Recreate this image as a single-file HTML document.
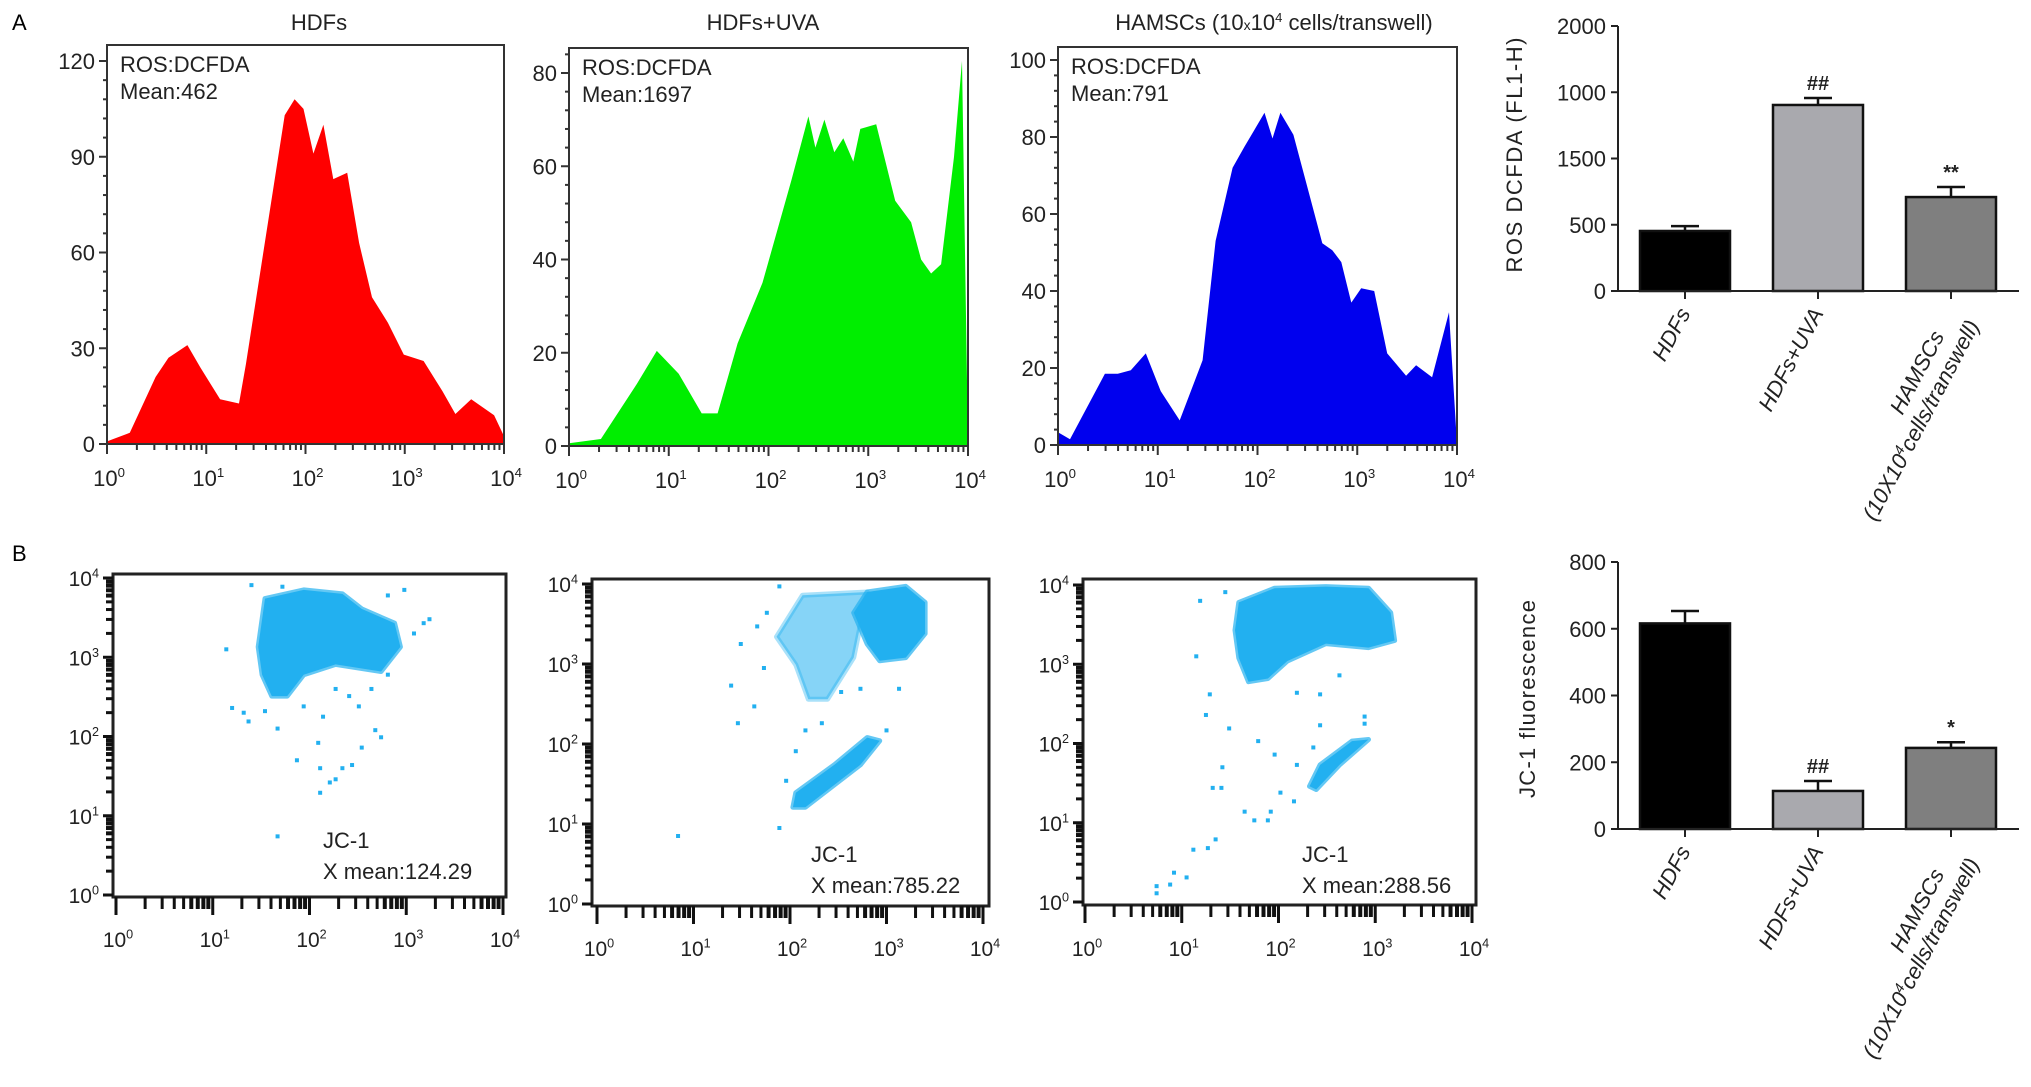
<!DOCTYPE html>
<html><head><meta charset="utf-8"><style>
html,body{margin:0;padding:0;background:#fff;}
svg{display:block;font-family:"Liberation Sans Narrow","Liberation Sans",sans-serif;}
</style></head><body>
<svg id="fig" width="2031" height="1087" viewBox="0 0 2031 1087" xmlns="http://www.w3.org/2000/svg">
<text x="12" y="30" font-size="22" font-family="Liberation Sans, sans-serif">A</text>
<text x="12" y="561" font-size="22" font-family="Liberation Sans, sans-serif">B</text>
</svg>
<script>
// ---------- DATA ----------
const histLabels = ["HDFs","HDFs+UVA","HAMSCs"];
const hist1LogX = [0,0.23,0.49,0.62,0.81,0.94,1.14,1.33,1.4,1.59,1.79,1.89,1.98,2.08,2.18,2.28,2.42,2.54,2.67,2.83,2.99,3.19,3.38,3.51,3.67,3.9,4.0];
const hist1Counts = [0.8,3.5,21,27,31,24,14,12.7,25,63,103,108,105,91,100,83,85,63,46,38,28,26,16.5,9.4,14,9,2.4];
const hist2LogX = [0,0.32,0.68,0.88,1.10,1.33,1.49,1.69,1.94,2.23,2.40,2.47,2.56,2.66,2.75,2.85,2.92,3.08,3.27,3.43,3.53,3.63,3.73,3.86,3.94,4.0];
const hist2Counts = [0.6,1.5,13.3,20.4,15.5,7,7,22,35,57,70.7,64,70,63,66,61,68,69,52.6,48,40,37,39,62,82.6,0.4];
const hist3LogX = [0,0.12,0.47,0.60,0.73,0.88,1.03,1.22,1.45,1.58,1.75,1.87,1.97,2.07,2.15,2.23,2.36,2.52,2.65,2.75,2.84,2.94,3.04,3.17,3.30,3.49,3.59,3.75,3.92,4.0];
const hist3Counts = [3.3,1.5,18.5,18.5,19.4,23.8,14,6.4,22,53,72,77.5,81.9,86.3,79.6,86.3,80.6,65,52.4,50.6,47.5,37,40.7,40,23.8,18,20.7,17.6,34.5,0.2];
const hist1YTicks = [0,30,60,90,120];
const hist2YTicks = [0,20,40,60,80];
const hist3YTicks = [0,20,40,60,80,100];
const logTicks = [0,1,2,3,4];

// scatter density regions (log10 x, log10 y) and sparse events
const sc1Dense = [[1.54,3.74],[1.94,3.85],[2.34,3.80],[2.54,3.61],[2.88,3.43],[2.94,3.13],[2.74,2.82],[2.27,2.91],[1.94,2.78],[1.77,2.51],[1.61,2.51],[1.51,2.78],[1.47,3.13]];
const sc1Points = [[1.14,3.10],[1.40,3.91],[1.72,3.89],[1.20,2.36],[1.32,2.30],[1.37,2.19],[1.54,2.32],[1.67,2.10],[1.87,1.70],[2.09,1.92],[2.11,1.60],[2.21,1.42],[2.27,1.46],[2.11,1.29],[2.34,1.60],[2.44,1.64],[2.54,1.86],[2.68,2.08],[2.74,1.99],[2.51,2.38],[2.41,2.51],[2.81,2.78],[3.08,3.30],[3.18,3.43],[3.24,3.48],[2.98,3.85],[2.81,3.78],[1.67,0.74],[2.27,2.60],[1.94,2.38],[2.14,2.25],[2.64,2.60]];
const sc2Dense = [[2.80,3.90],[3.20,3.97],[3.40,3.77],[3.40,3.38],[3.20,3.08],[2.93,3.04],[2.80,3.25],[2.66,3.64]];
const sc2Medium = [[2.13,3.86],[2.80,3.90],[2.66,3.08],[2.39,2.56],[2.19,2.56],[2.06,2.99],[1.86,3.34]];
const sc2Streak = [[2.03,1.21],[2.16,1.21],[2.73,1.74],[2.93,2.04],[2.80,2.08],[2.46,1.74],[2.06,1.39]];
const sc2Points = [[1.89,3.97],[1.66,3.47],[1.49,3.25],[1.39,2.73],[1.46,2.26],[1.63,2.47],[1.73,2.95],[2.06,1.91],[2.16,2.17],[1.96,1.54],[1.89,0.95],[0.84,0.85],[2.53,2.65],[2.73,2.69],[3.0,2.17],[3.13,2.69],[2.33,2.26],[1.76,3.64]];
const sc3Dense = [[1.59,3.78],[1.96,3.96],[2.49,3.98],[2.93,3.96],[3.16,3.65],[3.20,3.30],[2.93,3.21],[2.49,3.26],[2.09,3.04],[1.89,2.82],[1.69,2.78],[1.59,3.08],[1.55,3.43]];
const sc3Streak = [[2.32,1.46],[2.43,1.73],[2.76,2.03],[2.93,2.05],[2.63,1.73],[2.39,1.42]];
const sc3Points = [[1.19,3.80],[1.45,3.91],[1.15,3.10],[1.29,2.62],[1.25,2.36],[1.49,2.19],[1.42,1.70],[1.32,1.44],[1.41,1.44],[1.65,1.14],[1.75,1.03],[1.89,1.03],[1.92,1.14],[1.35,0.79],[1.27,0.68],[1.12,0.66],[1.05,0.31],[0.92,0.37],[0.88,0.22],[0.74,0.11],[0.74,0.20],[1.79,2.03],[1.96,1.86],[2.02,1.38],[2.16,1.27],[2.19,1.73],[2.43,2.23],[2.89,2.34],[2.19,2.64],[2.63,2.86],[2.43,2.62],[2.89,2.25],[2.36,1.95]];

// bar charts
const barCategories = ["HDFs","HDFs+UVA","HAMSCs"];
const rosMeans = [453,1404,709];
const rosErrors = [37,53,76];
const rosSig = ["","##","**"];
const rosTickValues = [0,500,1000,1500,2000];
const rosTickLabels = ["0","500","1500","1000","2000"];
const jcMeans = [616,114,243];
const jcErrors = [37,30,17];
const jcSig = ["","##","*"];
const jcTickValues = [0,200,400,600,800];

// ---------- DRAWING ----------
const svg = document.getElementById('fig');
const NS = 'http://www.w3.org/2000/svg';
function el(tag, attrs, parent){
  const e = document.createElementNS(NS, tag);
  for (const k in attrs) e.setAttribute(k, attrs[k]);
  (parent||svg).appendChild(e);
  return e;
}
function pow10Label(g, x, y, exp, size, anchor){
  const t = el('text', {x:x, y:y, 'font-size':size, 'text-anchor':anchor||'middle', fill:'#222'}, g);
  
  
  const a = document.createElementNS(NS,'tspan'); a.textContent='10'; t.appendChild(a);
  const b = document.createElementNS(NS,'tspan'); b.setAttribute('dy', -size*0.4); b.setAttribute('font-size', size*0.6); b.textContent=String(exp); t.appendChild(b);
  return t;
}

function drawHist(cfg){
  const g = el('g', {});
  
  
  const sx = v => cfg.x0 + (cfg.x1-cfg.x0)*v/4;
  const sy = v => cfg.y0 - (cfg.y0-cfg.yMaxPx)*v/cfg.yMax;
  // area
  let d = 'M'+sx(cfg.lx[0])+','+sy(0);
  for (let i=0;i<cfg.lx.length;i++) d += ' L'+sx(cfg.lx[i]).toFixed(1)+','+sy(cfg.cnt[i]).toFixed(1);
  d += ' L'+sx(cfg.lx[cfg.lx.length-1])+','+sy(0)+' Z';
  const p = el('path', {d:d, fill:cfg.color, stroke:'none'}, g);
  
  
  // frame
  const r = el('rect', {x:cfg.x0, y:cfg.top, width:cfg.x1-cfg.x0, height:cfg.y0-cfg.top, fill:'none', stroke:'#333', 'stroke-width':2}, g);
  
  
  // y ticks
  const step = cfg.yt[1]-cfg.yt[0];
  for (let v=0; v<=cfg.yMax+step; v+=step/5){
    const yy = sy(v); if (yy < cfg.top) break;
    el('line', {x1:cfg.x0, x2:cfg.x0-(Math.abs(v%step)<1e-6?8:4), y1:yy, y2:yy, stroke:'#333', 'stroke-width':2}, g);
  }
  cfg.yt.forEach(v=>{
    const t = el('text', {x:cfg.x0-12, y:sy(v)+8, 'font-size':22, 'text-anchor':'end', fill:'#222'}, g);
    
    
    t.textContent = v;
  });
  // x ticks
  for (let dec=0; dec<4; dec++){
    for (let k=1;k<10;k++){
      const xx = sx(dec+Math.log10(k));
      el('line', {x1:xx, x2:xx, y1:cfg.y0, y2:cfg.y0+(k===1?10:6), stroke:'#333', 'stroke-width':2}, g);
    }
  }
  el('line', {x1:sx(4), x2:sx(4), y1:cfg.y0, y2:cfg.y0+10, stroke:'#333', 'stroke-width':2}, g);
  logTicks.forEach(e=> pow10Label(g, sx(e)+2, cfg.y0+42, e, 22));
  // title
  const ti = el('text', {x:cfg.tx, y:30, 'font-size':22, 'text-anchor':'middle', fill:'#222'}, g);
  
  
  ti.innerHTML = cfg.title;
  const a1 = el('text', {x:cfg.x0+13, y:cfg.ann1, 'font-size':22, fill:'#222'}, g);
  
  
  a1.textContent = 'ROS:DCFDA';
  const a2 = el('text', {x:cfg.x0+13, y:cfg.ann1+27, 'font-size':22, fill:'#222'}, g);
  
  
  a2.textContent = cfg.mean;
}
drawHist({name:'histogram-hdfs', x0:107, x1:504, top:45, y0:444, yMax:120, yMaxPx:61, lx:hist1LogX, cnt:hist1Counts, yt:hist1YTicks, color:'#ff0000', tx:319, title:'HDFs', mean:'Mean:462', ann1:72});
drawHist({name:'histogram-hdfs-uva', x0:569, x1:968, top:48, y0:446, yMax:80, yMaxPx:73, lx:hist2LogX, cnt:hist2Counts, yt:hist2YTicks, color:'#00ee00', tx:763, title:'HDFs+UVA', mean:'Mean:1697', ann1:75});
drawHist({name:'histogram-hamscs', x0:1058, x1:1457, top:47, y0:445, yMax:100, yMaxPx:60, lx:hist3LogX, cnt:hist3Counts, yt:hist3YTicks, color:'#0000ee', tx:1274, title:'HAMSCs (10<tspan font-size="14">x</tspan>10<tspan dy="-8" font-size="13">4</tspan><tspan dy="8"> cells/transwell)</tspan>', mean:'Mean:791', ann1:74});

function drawScatter(cfg){
  const g = el('g', {});
  
  
  const sx = v => cfg.xa + (cfg.xb-cfg.xa)*v/4;
  const sy = v => cfg.ya - (cfg.ya-cfg.yb)*v/4;
  const col = '#22b0f0';
  const poly = (pts, op, nm) => {
    const pg = el('polygon', {points: pts.map(p=>sx(p[0]).toFixed(1)+','+sy(p[1]).toFixed(1)).join(' '), fill:col, 'fill-opacity':op, stroke:col, 'stroke-width':5, 'stroke-opacity':op*0.7, 'stroke-linejoin':'round'}, g);
    
    
  };
  (cfg.medium||[]).forEach(r=>poly(r,0.55,'medium-density-region'));
  cfg.dense.forEach(r=>poly(r,1,'dense-event-region'));
  cfg.pts.forEach(p=>{
    const c = el('rect', {x:sx(p[0])-2, y:sy(p[1])-2, width:4, height:4, fill:col}, g);
    
    
  });
  const r = el('rect', {x:cfg.x0, y:cfg.top, width:cfg.x1-cfg.x0, height:cfg.bot-cfg.top, fill:'none', stroke:'#222', 'stroke-width':3}, g);
  
  
  for (let dec=0; dec<4; dec++){
    for (let k=1;k<10;k++){
      const v = dec+Math.log10(k);
      el('line', {x1:cfg.x0, x2:cfg.x0-(k===1?10:7), y1:sy(v), y2:sy(v), stroke:'#111', 'stroke-width':k>5?4:3}, g);
      el('line', {x1:sx(v), x2:sx(v), y1:cfg.bot, y2:cfg.bot+(k===1?18:12), stroke:'#111', 'stroke-width':k>5?4:3}, g);
    }
  }
  el('line', {x1:cfg.x0, x2:cfg.x0-10, y1:sy(4), y2:sy(4), stroke:'#111', 'stroke-width':3}, g);
  el('line', {x1:sx(4), x2:sx(4), y1:cfg.bot, y2:cfg.bot+18, stroke:'#111', 'stroke-width':3}, g);
  logTicks.forEach(e=>{
    pow10Label(g, cfg.x0-14, sy(e)+8, e, 21, 'end');
    pow10Label(g, sx(e)+2, cfg.lblY, e, 21);
  });
  const a1 = el('text', {x:cfg.tx, y:cfg.ty, 'font-size':22, fill:'#222'}, g);
  
  
  a1.textContent = 'JC-1';
  const a2 = el('text', {x:cfg.tx, y:cfg.ty+31, 'font-size':22, fill:'#222'}, g);
  
  
  a2.textContent = cfg.mean;
}
drawScatter({name:'scatter-hdfs', x0:113, x1:506, top:574, bot:897, xa:116, xb:503, ya:895, yb:578, dense:[sc1Dense], pts:sc1Points, lblY:947, tx:323, ty:848, mean:'X mean:124.29'});
drawScatter({name:'scatter-hdfs-uva', x0:592, x1:989, top:579, bot:906, xa:597, xb:983, ya:904, yb:584, medium:[sc2Medium], dense:[sc2Dense, sc2Streak], pts:sc2Points, lblY:956, tx:811, ty:862, mean:'X mean:785.22'});
drawScatter({name:'scatter-hamscs', x0:1083, x1:1476, top:579, bot:905, xa:1085, xb:1472, ya:902, yb:585, dense:[sc3Dense, sc3Streak], pts:sc3Points, lblY:956, tx:1302, ty:862, mean:'X mean:288.56'});

function drawBars(cfg){
  const g = el('g', {});
  
  
  const sy = v => cfg.y0 - (cfg.y0-cfg.yTopPx)*v/cfg.yMax;
  const barX = [1640,1773,1906], bw = 90;
  const cols = ['#000000','#a9a9ae','#7f7f7f'];
  cfg.means.forEach((m,i)=>{
    const cx = barX[i]+bw/2;
    const eb = el('line', {x1:cx, x2:cx, y1:sy(m), y2:sy(m+cfg.err[i]), stroke:'#111', 'stroke-width':2.5}, g);
    
    
    el('line', {x1:cx-14, x2:cx+14, y1:sy(m+cfg.err[i]), y2:sy(m+cfg.err[i]), stroke:'#111', 'stroke-width':2.5}, g);
    const b = el('rect', {x:barX[i], y:sy(m), width:bw, height:cfg.y0-sy(m), fill:cols[i], stroke:'#111', 'stroke-width':2.5}, g);
    
    
    if (cfg.sig[i]){
      const s = el('text', {x:cx, y:sy(m+cfg.err[i])-8, 'font-size':20, 'text-anchor':'middle', fill:'#222', 'font-weight':'bold'}, g);
      
      
      s.textContent = cfg.sig[i];
    }
    el('line', {x1:cx, x2:cx, y1:cfg.y0, y2:cfg.y0+8, stroke:'#222', 'stroke-width':2}, g);
    // rotated category label
    const tx = cx+6, ty = cfg.y0+22;
    const t = el('text', {x:tx, y:ty, 'font-size':22, 'text-anchor':'end', 'font-style':'italic', fill:'#222', 'font-family':'Liberation Sans, sans-serif', transform:'rotate(-62 '+tx+' '+ty+')'}, g);
    
    
    if (i===2){
      t.setAttribute('x', tx-26);
      t.textContent = 'HAMSCs';
      const t2 = el('text', {x:tx, y:ty, 'font-size':22, 'text-anchor':'end', 'font-style':'italic', fill:'#222', 'font-family':'Liberation Sans, sans-serif', transform:'rotate(-62 '+tx+' '+ty+') translate(0 26)'}, g);
      
      
      t2.innerHTML = '(10X10<tspan dy="-8" font-size="14">4</tspan><tspan dy="8">cells/transwell)</tspan>';
    } else t.textContent = barCategories[i];
  });
  el('line', {x1:cfg.xAxis, x2:cfg.xAxis, y1:cfg.yTopPx, y2:cfg.y0, stroke:'#222', 'stroke-width':2}, g);
  el('line', {x1:cfg.xAxis, x2:2019, y1:cfg.y0, y2:cfg.y0, stroke:'#222', 'stroke-width':2}, g);
  cfg.ticks.forEach((v,i)=>{
    el('line', {x1:cfg.xAxis, x2:cfg.xAxis-7, y1:sy(v), y2:sy(v), stroke:'#222', 'stroke-width':2}, g);
    const t = el('text', {x:cfg.xAxis-12, y:sy(v)+8, 'font-size':22, 'text-anchor':'end', fill:'#222'}, g);
    
    
    t.textContent = cfg.tickLabels[i];
  });
  const yl = el('text', {x:cfg.ylx, y:cfg.yly, 'font-size':22, 'text-anchor':'middle', fill:'#222', 'font-family':'Liberation Sans, sans-serif', textLength:cfg.ylLen, transform:'rotate(-90 '+cfg.ylx+' '+cfg.yly+')'}, g);
  
  
  yl.textContent = cfg.ylabel;
}
drawBars({name:'bar-chart-ros', y0:291, yTopPx:26, yMax:2000, xAxis:1618, means:rosMeans, err:rosErrors, sig:rosSig, ticks:rosTickValues, tickLabels:rosTickLabels, ylx:1522, yly:155, ylLen:235, ylabel:'ROS DCFDA (FL1-H)'});
drawBars({name:'bar-chart-jc1', y0:829, yTopPx:562, yMax:800, xAxis:1618, means:jcMeans, err:jcErrors, sig:jcSig, ticks:jcTickValues, tickLabels:jcTickValues.map(String), ylx:1535, yly:699, ylLen:198, ylabel:'JC-1 fluorescence'});
</script>
</body></html>
